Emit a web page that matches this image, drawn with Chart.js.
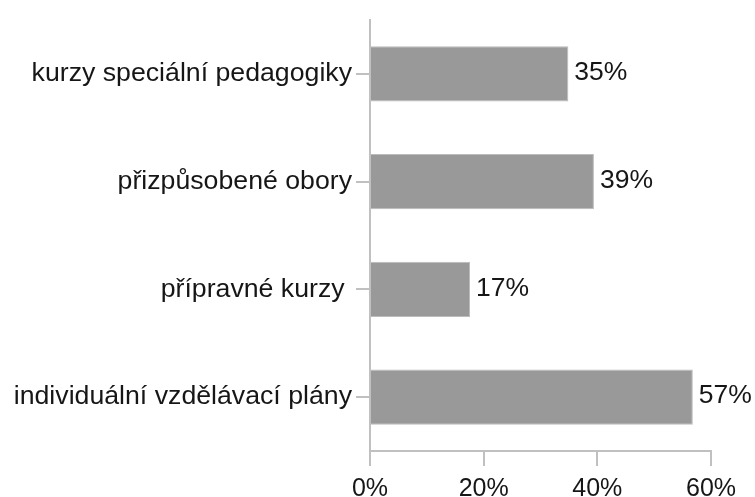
<!DOCTYPE html>
<html>
<head>
<meta charset="utf-8">
<script src="https://cdn.jsdelivr.net/npm/chart.js@4/dist/chart.umd.min.js"></script>
<style>
  html, body { margin: 0; padding: 0; background: #ffffff; }
  #wrap { width: 755px; height: 497px; }
</style>
</head>
<body>
<div id="wrap"><canvas id="c" width="755" height="497"></canvas></div>
<script>
const categories = ['kurzy speciální pedagogiky', 'přizpůsobené obory', 'přípravné kurzy ', 'individuální vzdělávací plány'];
const values = [34.9, 39.4, 17.6, 56.8];
const valueLabels = ['35%', '39%', '17%', '57%'];
const xTicks = [0, 20, 40, 60];

const FONT = "'Liberation Sans', Arial, sans-serif";
const TEXT = '#161616';
const AXIS = '#c0c0c0';

const barLabels = {
  id: 'barLabels',
  afterDatasetsDraw(chart) {
    const ctx = chart.ctx;
    const meta = chart.getDatasetMeta(0);
    ctx.save();
    ctx.font = '26.5px ' + FONT;
    ctx.fillStyle = TEXT;
    ctx.textAlign = 'left';
    ctx.textBaseline = 'middle';
    meta.data.forEach((bar, i) => {
      ctx.fillText(valueLabels[i], bar.x + 6, bar.y - 1);
    });
    ctx.restore();
  }
};

new Chart(document.getElementById('c'), {
  type: 'bar',
  data: {
    labels: categories,
    datasets: [{
      data: values,
      backgroundColor: '#999999',
      borderColor: '#bcbcbc',
      borderWidth: 1,
      barPercentage: 0.514,
      categoryPercentage: 1.0
    }]
  },
  options: {
    indexAxis: 'y',
    responsive: false,
    animation: false,
    layout: { padding: { top: 15, right: 44, bottom: 0, left: 0 } },
    plugins: { legend: { display: false }, tooltip: { enabled: false } },
    scales: {
      x: {
        min: xTicks[0],
        max: xTicks[xTicks.length - 1],
        afterBuildTicks(scale) { scale.ticks = xTicks.map(v => ({ value: v })); },
        afterFit(scale) { scale.height = 46; },
        grid: { drawOnChartArea: false, drawTicks: true, tickLength: 15, color: AXIS, lineWidth: 2 },
        border: { display: true, color: AXIS, width: 2 },
        ticks: {
          padding: 8,
          color: TEXT,
          font: { family: FONT, size: 25 },
          callback: v => v + '%'
        }
      },
      y: {
        afterFit(scale) { scale.width = 370; },
        grid: { drawOnChartArea: false, drawTicks: true, tickLength: 14, offset: false, color: AXIS, lineWidth: 2 },
        border: { display: true, color: AXIS, width: 2 },
        ticks: {
          padding: 4,
          color: TEXT,
          font: { family: FONT, size: 26.7 }
        }
      }
    }
  },
  plugins: [barLabels]
});
</script>
</body>
</html>
